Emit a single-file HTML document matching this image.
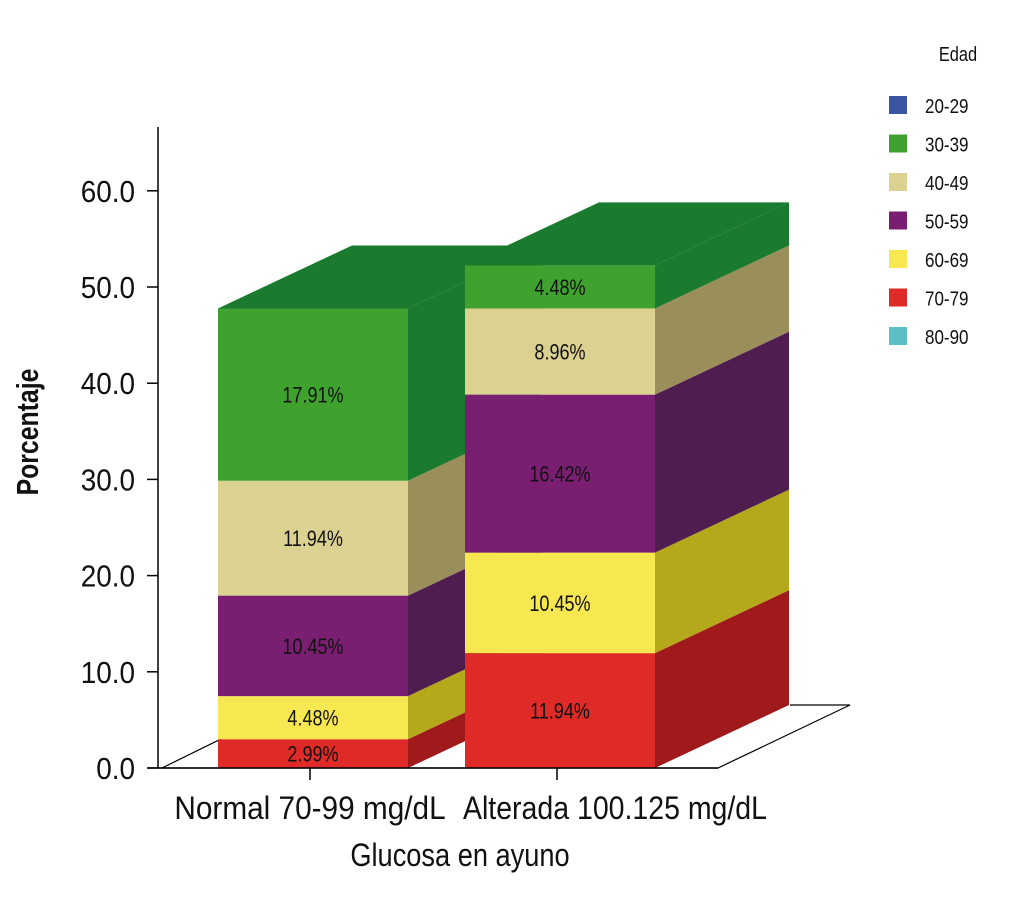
<!DOCTYPE html>
<html><head><meta charset="utf-8"><style>
body{margin:0;background:#fff}
svg text{font-family:"Liberation Sans Narrow","Liberation Sans",sans-serif}
</style></head><body>
<svg id="c" width="1033" height="908" xmlns="http://www.w3.org/2000/svg"></svg>
<script>
const categories=["Normal 70-99 mg/dL","Alterada 100.125 mg/dL"];
const seriesNames=["20-29","30-39","40-49","50-59","60-69","70-79","80-90"];
const s2029=[0,0];
const s3039=[17.91,4.48];
const s4049=[11.94,8.96];
const s5059=[10.45,16.42];
const s6069=[4.48,10.45];
const s7079=[2.99,11.94];
const s8090=[0,0];
const yTicks=[0,10,20,30,40,50,60];
const frontCol=["#3a56a0","#3fa22f","#dbd190","#7a1e72","#f7e852","#e02a27","#5bbfc4"];
const sideCol=["#2a3e78","#1a7a2e","#9a8f5a","#501d50","#b3a91a","#a01a1c","#3f8f92"];
const stackOrder=[5,4,3,2,1,0,6];
const seriesVals=[s2029,s3039,s4049,s5059,s6069,s7079,s8090];
const NS="http://www.w3.org/2000/svg";const svg=document.getElementById('c');
function el(t,a,p){const e=document.createElementNS(NS,t);for(const k in a)e.setAttribute(k,a[k]);(p||svg).appendChild(e);return e;}
function cond(t,f){const w=t.getComputedTextLength();t.setAttribute('textLength',w*f);t.setAttribute('lengthAdjust','spacingAndGlyphs');}
const y0=768,pxPer=9.62;function Y(v){return y0-v*pxPer;}
const barX=[218,465],barW=190,DX=134,DY=-63;
const labelX=[310,615];
const labelF=[0.93,0.89];
let f=el('polyline',{points:`158,768 718,768 850,705 790,705`,fill:'none',stroke:'#000','stroke-width':1.2});

let fl=el('line',{x1:162,y1:768,x2:290,y2:705,stroke:'#000','stroke-width':1.2});

categories.forEach((c,ci)=>{
  let cum=0;const x=barX[ci];let top=null;
  stackOrder.forEach(si=>{
    const v=seriesVals[si][ci];if(v<=0)return;
    const yb=Y(cum),yt=Y(cum+v);cum+=v;
    const g=el('g',{});
    
    
    el('rect',{x:x,y:yt,width:barW,height:yb-yt,fill:frontCol[si]},g);
    el('polygon',{points:`${x+barW},${yb} ${x+barW+DX},${yb+DY} ${x+barW+DX},${yt+DY} ${x+barW},${yt}`,fill:sideCol[si]},g);
    const t=el('text',{x:x+barW/2,y:(yt+yb)/2+8,'text-anchor':'middle','font-size':22,fill:'#111'},g);
    t.textContent=v.toFixed(2)+'%';cond(t,0.82);
    top=si;
  });
  if(top!==null){const yt=Y(cum);
    const tp=el('polygon',{points:`${x},${yt} ${x+DX},${yt+DY} ${x+barW+DX},${yt+DY} ${x+barW},${yt}`,fill:sideCol[top]});
    }
  const tk=el('line',{x1:x+92,y1:768,x2:x+92,y2:780,stroke:'#000','stroke-width':1.5});
  
  const lb=el('text',{x:labelX[ci],y:819,'text-anchor':'middle','font-size':32,fill:'#111'});
  lb.textContent=c;cond(lb,labelF[ci]);
});
const ax=el('line',{x1:158,y1:127,x2:158,y2:768,stroke:'#000','stroke-width':1.5});

const bl=el('line',{x1:148,y1:768,x2:718,y2:768,stroke:'#000','stroke-width':1.5});

yTicks.forEach(v=>{
  const l=el('line',{x1:147,y1:Y(v),x2:158,y2:Y(v),stroke:'#000','stroke-width':1.5});
  
  const t=el('text',{x:135,y:Y(v)+11,'text-anchor':'end','font-size':31,fill:'#111'});
  t.textContent=v.toFixed(1);cond(t,0.9);
});
const yt=el('text',{x:38,y:432,'text-anchor':'middle','font-size':31,'font-weight':'bold',fill:'#111',transform:'rotate(-90 38 432)'});
yt.textContent='Porcentaje';cond(yt,0.8);
const xt=el('text',{x:460,y:866,'text-anchor':'middle','font-size':32,fill:'#111'});
xt.textContent='Glucosa en ayuno';cond(xt,0.85);
const lt=el('text',{x:958,y:61,'text-anchor':'middle','font-size':20,fill:'#111'});
lt.textContent='Edad';cond(lt,0.82);
seriesNames.forEach((n,i)=>{
  const g=el('g',{});
  
  
  const yy=96+i*38.5;
  el('rect',{x:889,y:yy,width:18,height:18,fill:frontCol[i]},g);
  const t=el('text',{x:925,y:yy+17,'font-size':20,fill:'#111'},g);t.textContent=n;cond(t,0.85);
});
</script>
</body></html>
